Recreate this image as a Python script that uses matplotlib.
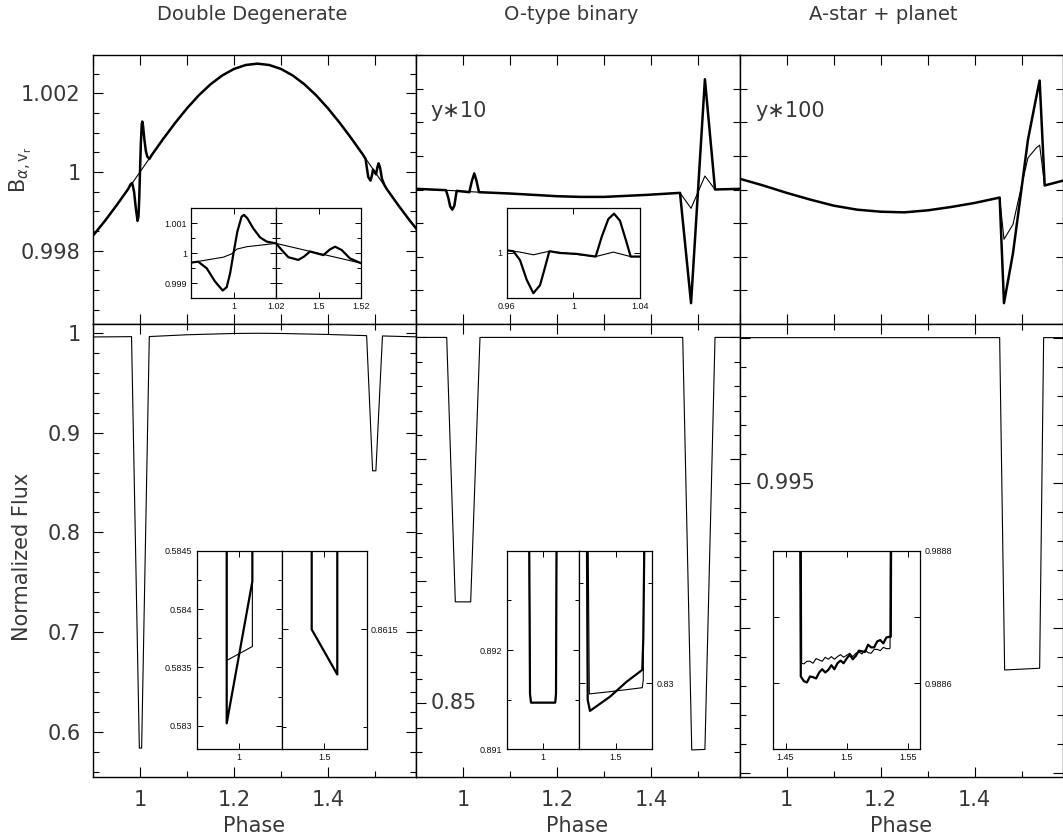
import matplotlib
matplotlib.use('Agg')
import matplotlib.pyplot as plt
from matplotlib.ticker import MultipleLocator

plt.rcParams['font.family'] = 'DejaVu Sans'
plt.rcParams['mathtext.fontset'] = 'dejavusans'

W, H = 1063, 840
TXT = '#383838'
INFONT = 'Liberation Sans'

titles = ['Double Degenerate', 'O-type binary', 'A-star + planet']

# ---- top row: B(alpha, v_r) ----
# Double degenerate
tl_phase = [0.900, 0.925, 0.950, 0.975, 1.000, 1.025, 1.050, 1.075, 1.100, 1.125, 1.150,
            1.175, 1.200, 1.225, 1.250, 1.275, 1.300, 1.325, 1.350, 1.375, 1.400, 1.425,
            1.450, 1.475, 1.500, 1.525, 1.550, 1.575, 1.600]
tl_thin = [0.998384, 0.998752, 0.999150, 0.999570, 1.000000, 1.000430, 1.000850, 1.001248,
           1.001616, 1.001945, 1.002225, 1.002450, 1.002616, 1.002716, 1.002750, 1.002716,
           1.002616, 1.002450, 1.002225, 1.001945, 1.001616, 1.001248, 1.000850, 1.000430,
           1.000000, 0.999570, 0.999150, 0.998752, 0.998384]
tl_thick_phase = [0.900, 0.925, 0.950, 0.975, 0.980, 0.9834, 0.9874, 0.9913, 0.9949, 0.9968,
                  0.9984, 1.0000, 1.0018, 1.0038, 1.0049, 1.0065, 1.0093, 1.0125, 1.0156,
                  1.0200, 1.025, 1.050, 1.075, 1.100, 1.125, 1.150, 1.175, 1.200, 1.225,
                  1.250, 1.275, 1.300, 1.325, 1.350, 1.375, 1.400, 1.425, 1.450, 1.475,
                  1.4800, 1.4827, 1.4858, 1.4905, 1.4932, 1.4960, 1.4991, 1.5023, 1.5054,
                  1.5078, 1.5109, 1.5148, 1.5200, 1.525, 1.550, 1.575, 1.600]
tl_thick = [0.998384, 0.998752, 0.999150, 0.999570, 0.99969, 0.99972, 0.99950, 0.99906,
            0.99876, 0.99887, 0.99933, 1.00000, 1.00072, 1.00122, 1.00128, 1.00117, 1.00083,
            1.00053, 1.00039, 1.00033, 1.000430, 1.000850, 1.001248, 1.001616, 1.001945,
            1.002225, 1.002450, 1.002616, 1.002716, 1.002750, 1.002716, 1.002616, 1.002450,
            1.002225, 1.001945, 1.001616, 1.001248, 1.000850, 1.000430,
            1.00033, 1.00011, 0.99987, 0.99978, 0.99989, 1.00006, 1.00000, 0.99994, 1.00013,
            1.00022, 1.00011, 0.99983, 0.99967, 0.999570, 0.999150, 0.998752, 0.998384]

# O-type binary (y*10)
tm_thick_phase = [0.900, 0.9632, 0.968, 0.972, 0.9766, 0.981, 0.9845, 0.986, 1.0128, 1.018,
                  1.0234, 1.028, 1.0334, 1.100, 1.200, 1.250, 1.300, 1.390, 1.461, 1.4845,
                  1.514, 1.5355, 1.589]
tm_thick = [1.00001, 0.99999, 0.99988, 0.99975, 0.99970, 0.99976, 0.99992, 0.99998, 0.99996,
            1.00012, 1.00024, 1.00013, 0.99996, 0.99994, 0.99990, 0.99989, 0.99989, 0.99992,
            0.99995, 0.99831, 1.00164, 1.00000, 1.00001]
tm_thin_phase = [0.900, 0.986, 1.0334, 1.100, 1.200, 1.250, 1.300, 1.390, 1.461, 1.4845,
                 1.514, 1.5355, 1.589]
tm_thin = [1.00001, 0.99998, 0.99996, 0.99994, 0.99990, 0.99989, 0.99989, 0.99992, 0.99995,
           0.99972, 1.00020, 1.00000, 1.00001]

# A-star + planet (y*100)
tr_phase = [0.900, 0.950, 1.000, 1.050, 1.100, 1.150, 1.200, 1.250, 1.300, 1.350, 1.400,
            1.4532, 1.4624, 1.4815, 1.4993, 1.5134, 1.5313, 1.5383, 1.549, 1.5872]
tr_thick = [1.00016, 1.00006, 0.99995, 0.99985, 0.99976, 0.99970, 0.99967, 0.99966, 0.99969,
            0.99974, 0.99980, 0.99988, 0.99831, 0.99905, 0.99999, 1.00074, 1.00138, 1.00162,
            1.00006, 1.00013]
tr_thin = [1.00016, 1.00006, 0.99995, 0.99985, 0.99976, 0.99970, 0.99967, 0.99966, 0.99969,
           0.99974, 0.99980, 0.99988, 0.99926, 0.99948, 1.00004, 1.00047, 1.00062, 1.00066,
           1.00006, 1.00013]

# ---- bottom row: normalized flux ----
bl_phase = [0.900, 0.982, 0.9986, 1.0035, 1.0198, 1.100, 1.200, 1.250, 1.300, 1.400, 1.4823,
            1.495, 1.502, 1.516, 1.588]
bl_flux = [0.9960, 0.9963, 0.5835, 0.5835, 0.9964, 0.9982, 0.9995, 0.9997, 0.9995, 0.9985,
           0.9973, 0.8617, 0.8617, 0.9970, 0.9961]
bm_phase = [0.900, 0.9647, 0.983, 1.0157, 1.0355, 1.4668, 1.486, 1.514, 1.5355, 1.588]
bm_flux = [1.0, 1.0, 0.8916, 0.8916, 1.0, 1.0, 0.8309, 0.8311, 1.0, 1.0]
br_phase = [0.900, 1.4532, 1.4638, 1.5383, 1.5468, 1.588]
br_flux = [1.0, 1.0, 0.98854, 0.98860, 1.0, 1.0]

# ---- insets ----
tli_l_phase = [0.980, 0.9834, 0.9874, 0.9913, 0.9949, 0.9968, 0.9984, 1.0000, 1.0018, 1.0038,
               1.0049, 1.0065, 1.0093, 1.0125, 1.0156, 1.0200]
tli_l_thick = [0.99969, 0.99972, 0.99950, 0.99906, 0.99876, 0.99887, 0.99933, 1.00000, 1.00072,
               1.00122, 1.00128, 1.00117, 1.00083, 1.00053, 1.00039, 1.00033]
tli_l_thin_phase = [0.980, 0.9952, 0.9991, 1.0016, 1.0063, 1.0200]
tli_l_thin = [0.99969, 0.99987, 0.99998, 1.00014, 1.00022, 1.00033]
tli_r_phase = [1.4800, 1.4827, 1.4858, 1.4905, 1.4932, 1.4960, 1.4991, 1.5023, 1.5054, 1.5078,
               1.5109, 1.5148, 1.5200]
tli_r_thick = [1.00033, 1.00011, 0.99987, 0.99978, 0.99989, 1.00006, 1.00000, 0.99994, 1.00013,
               1.00022, 1.00011, 0.99983, 0.99967]
tli_r_thin_phase = [1.48, 1.52]
tli_r_thin = [1.00033, 0.99967]

tmi_phase = [0.960, 0.964, 0.968, 0.972, 0.976, 0.980, 0.983, 0.9856, 0.992, 1.002, 1.0134,
             1.017, 1.021, 1.0244, 1.028, 1.0316, 1.0344, 1.040]
tmi_thick = [1.00003, 1.00002, 0.99992, 0.99970, 0.99955, 0.99964, 0.99984, 1.00002, 1.00000,
             0.99999, 0.99996, 1.00018, 1.00038, 1.00044, 1.00036, 1.00014, 0.99996, 0.99996]
tmi_thin_phase = [0.960, 0.968, 0.976, 0.9856, 1.0134, 1.024, 1.0344, 1.040]
tmi_thin = [1.00003, 1.00001, 0.99998, 1.00002, 0.99996, 1.00001, 0.99996, 0.99996]

bli_l_phase = [0.99706, 0.99706, 1.0031, 1.0031]
bli_l_thick = [0.5850, 0.58302, 0.58424, 0.5850]
bli_l_thin = [0.5850, 0.58356, 0.58368, 0.5850]
bli_r_phase = [1.49706, 1.49706, 1.50308, 1.50308]
bli_r_thick = [0.8625, 0.86150, 0.86127, 0.8625]

bmi_l_phase = [0.98457, 0.98568, 0.98678, 1.01350, 1.01432, 1.01510]
bmi_l_flux = [0.8935, 0.89156, 0.89147, 0.89147, 0.89156, 0.8935]
bmi_r_thick_phase = [1.4681, 1.4692, 1.4717, 1.4936, 1.5119, 1.5290, 1.5301, 1.5320]
bmi_r_thick = [0.8310, 0.829917, 0.829862, 0.829933, 0.830008, 0.830067, 0.830217, 0.8310]
bmi_r_thin_phase = [1.4692, 1.4710, 1.4936, 1.5290, 1.5301, 1.5310]
bmi_r_thin = [0.8310, 0.829947, 0.829958, 0.829978, 0.830017, 0.8310]

bri_thick_phase = [1.4618, 1.4625, 1.4650, 1.4675, 1.4700, 1.4725, 1.4750, 1.4775, 1.4800,
                   1.4825, 1.4850, 1.4875, 1.4900, 1.4925, 1.4950, 1.4975, 1.5000, 1.5025,
                   1.5050, 1.5075, 1.5100, 1.5125, 1.5150, 1.5175, 1.5200, 1.5225, 1.5250,
                   1.5275, 1.5300, 1.5325, 1.5350, 1.5361, 1.5365]
bri_thick = [0.98890, 0.988610, 0.988603, 0.988601, 0.988610, 0.988609, 0.988607, 0.988616,
             0.988621, 0.988616, 0.988620, 0.988627, 0.988621, 0.988630, 0.988634, 0.988630,
             0.988637, 0.988643, 0.988636, 0.988641, 0.988649, 0.988648, 0.988647, 0.988658,
             0.988654, 0.988654, 0.988663, 0.988665, 0.988660, 0.988669, 0.988670, 0.988670,
             0.98890]
bri_thin_phase = [1.4628, 1.4632, 1.4650, 1.4675, 1.4700, 1.4725, 1.4750, 1.4775, 1.4800,
                  1.4825, 1.4850, 1.4875, 1.4900, 1.4925, 1.4950, 1.4975, 1.5000, 1.5025,
                  1.5050, 1.5075, 1.5100, 1.5125, 1.5150, 1.5175, 1.5200, 1.5225, 1.5250,
                  1.5275, 1.5300, 1.5325, 1.5350, 1.5355, 1.5358]
bri_thin = [0.98890, 0.988630, 0.988629, 0.988633, 0.988633, 0.988630, 0.988637, 0.988635,
            0.988633, 0.988639, 0.988636, 0.988640, 0.988636, 0.988640, 0.988643, 0.988639,
            0.988642, 0.988645, 0.988640, 0.988645, 0.988647, 0.988644, 0.988650, 0.988646,
            0.988645, 0.988651, 0.988651, 0.988649, 0.988654, 0.988652, 0.988652, 0.988653,
            0.98890]


fig = plt.figure(figsize=(W / 100, H / 100), dpi=100)


def box(x0, y0, x1, y1):
    # pixel box (top-left origin) -> figure fraction
    return [x0 / W, 1 - y1 / H, (x1 - x0) / W, (y1 - y0) / H]


def main_axes(x0, x1, y0, y1, ylim):
    ax = fig.add_axes(box(x0, y0, x1, y1))
    ax.set_xlim(0.9, 1.588)
    ax.set_ylim(*ylim)
    ax.tick_params(which='both', direction='in', top=True, right=True, labelsize=15,
                   colors='k', labelcolor=TXT, width=0.8)
    ax.tick_params(which='major', length=7.5)
    ax.tick_params(which='minor', length=4.5)
    ax.tick_params(axis='x', pad=9)
    ax.tick_params(axis='y', pad=9)
    for s in ax.spines.values():
        s.set_linewidth(1.0)
    return ax


def inset_axes(x0, x1, y0, y1, xlim, ylim):
    ax = fig.add_axes(box(x0, y0, x1, y1))
    ax.set_xlim(*xlim)
    ax.set_ylim(*ylim)
    ax.tick_params(which='both', direction='in', top=True, right=True, labelsize=6.5,
                   pad=3, width=0.7, labelcolor='#111')
    ax.tick_params(which='major', length=4)
    ax.tick_params(which='minor', length=3)
    for s in ax.spines.values():
        s.set_linewidth(0.9)
    return ax


cols = [93, 416.3, 739.7, 1063]

# top row
tl = main_axes(cols[0], cols[1], 55, 324, (0.99614, 1.00297))
tm = main_axes(cols[1], cols[2], 55, 324, (0.998, 1.002))
tr = main_axes(cols[2], cols[3], 55, 324, (0.998, 1.002))
for ax in (tl, tm, tr):
    ax.xaxis.set_major_locator(MultipleLocator(0.1))
    ax.tick_params(labelbottom=False)
tl.set_yticks([0.998, 1.0, 1.002], ['0.998', '1', '1.002'])
tl.yaxis.set_minor_locator(MultipleLocator(0.0005))
for ax in (tm, tr):
    ax.yaxis.set_major_locator(MultipleLocator(0.0005))
    ax.tick_params(axis='y', which='major', length=5, labelleft=False)

tl.plot(tl_phase, tl_thin, color='k', lw=0.8)
tl.plot(tl_thick_phase, tl_thick, color='k', lw=1.8)
tm.plot(tm_thin_phase, tm_thin, color='k', lw=0.8)
tm.plot(tm_thick_phase, tm_thick, color='k', lw=1.8)
tr.plot(tr_phase, tr_thin, color='k', lw=0.8)
tr.plot(tr_phase, tr_thick, color='k', lw=1.8)

tm.text(0.045, 0.79, 'y\u221710', transform=tm.transAxes, fontsize=15, color=TXT,
        va='center', ha='left')
tr.text(0.05, 0.79, 'y\u2217100', transform=tr.transAxes, fontsize=15, color=TXT,
        va='center', ha='left')

# bottom row
bl = main_axes(cols[0], cols[1], 324, 777, (0.5545, 1.009))
bm = main_axes(cols[1], cols[2], 324, 777, (0.8198, 1.0055))
br = main_axes(cols[2], cols[3], 324, 777, (0.98485, 1.00047))
for ax in (bl, bm, br):
    ax.set_xticks([1.0, 1.2, 1.4], ['1', '1.2', '1.4'])
    ax.xaxis.set_minor_locator(MultipleLocator(0.1))
bl.set_yticks([0.6, 0.7, 0.8, 0.9, 1.0], ['0.6', '0.7', '0.8', '0.9', '1'])
bl.yaxis.set_minor_locator(MultipleLocator(0.02))
bm.yaxis.set_major_locator(MultipleLocator(0.05))
bm.yaxis.set_minor_locator(MultipleLocator(0.01))
br.yaxis.set_major_locator(MultipleLocator(0.005))
br.yaxis.set_minor_locator(MultipleLocator(0.001))
for ax in (bm, br):
    ax.tick_params(axis='y', labelleft=False)

bl.plot(bl_phase, bl_flux, color='k', lw=0.8)
bm.plot(bm_phase, bm_flux, color='k', lw=0.8)
br.plot(br_phase, br_flux, color='k', lw=0.8)

# stray tick labels drawn inside the panels
bm.text(0.045, 0.85, '0.85', transform=bm.get_yaxis_transform(), fontsize=15, color=TXT,
        va='center', ha='left')
br.text(0.05, 0.995, '0.995', transform=br.get_yaxis_transform(), fontsize=15, color=TXT,
        va='center', ha='left')

# inset: double degenerate, top
a = inset_axes(191, 276, 208.3, 298.3, (0.98, 1.02), (0.9985, 1.0015))
a.set_xticks([1.0, 1.02], ['1', '1.02'], fontfamily=INFONT)
a.set_yticks([0.999, 1.0, 1.001], ['0.999', '1', '1.001'], fontfamily=INFONT)
a.yaxis.set_minor_locator(MultipleLocator(0.0005))
a.plot(tli_l_thin_phase, tli_l_thin, color='k', lw=0.8)
a.plot(tli_l_phase, tli_l_thick, color='k', lw=1.6)
a = inset_axes(276, 361, 208.3, 298.3, (1.48, 1.52), (0.9985, 1.0015))
a.set_xticks([1.5, 1.52], ['1.5', '1.52'], fontfamily=INFONT)
a.set_yticks([0.999, 1.0, 1.001])
a.yaxis.set_minor_locator(MultipleLocator(0.0005))
a.tick_params(labelleft=False)
a.plot(tli_r_thin_phase, tli_r_thin, color='k', lw=0.8)
a.plot(tli_r_phase, tli_r_thick, color='k', lw=1.6)

# inset: O-type, top
a = inset_axes(506.7, 640, 208.3, 297.7, (0.96, 1.04), (0.9995, 1.0005))
a.set_xticks([0.96, 1.0, 1.04], ['0.96', '1', '1.04'], fontfamily=INFONT)
a.set_yticks([1.0], ['1'], fontfamily=INFONT)
a.plot(tmi_thin_phase, tmi_thin, color='k', lw=0.8)
a.plot(tmi_phase, tmi_thick, color='k', lw=1.6)

# inset: double degenerate, bottom
a = inset_axes(196.7, 281.7, 551, 749, (0.99, 1.01), (0.5828, 0.5845))
a.set_xticks([1.0], ['1'], fontfamily=INFONT)
a.set_yticks([0.583, 0.5835, 0.584, 0.5845], ['0.583', '0.5835', '0.584', '0.5845'],
             fontfamily=INFONT)
a.yaxis.set_minor_locator(MultipleLocator(0.00025))
a.plot(bli_l_phase, bli_l_thin, color='k', lw=0.8)
a.plot(bli_l_phase, bli_l_thick, color='k', lw=1.6)
a = inset_axes(281.7, 366.7, 551, 749, (1.49, 1.51), (0.86089, 0.8619))
a.set_xticks([1.5], ['1.5'], fontfamily=INFONT)
a.set_yticks([0.8615], ['0.8615'], fontfamily=INFONT)
a.set_yticks([0.861], minor=True)
a.tick_params(labelleft=False, labelright=True)
a.plot(bli_r_phase, bli_r_thick, color='k', lw=1.6)

# inset: O-type, bottom
a = inset_axes(506.7, 579.3, 550.7, 749.3, (0.96, 1.04), (0.891, 0.893))
a.set_xticks([1.0], ['1'], fontfamily=INFONT)
a.set_yticks([0.891, 0.892], ['0.891', '0.892'], fontfamily=INFONT)
a.yaxis.set_minor_locator(MultipleLocator(0.0005))
a.plot(bmi_l_phase, bmi_l_flux, color='k', lw=0.8)
a.plot(bmi_l_phase, bmi_l_flux, color='k', lw=1.6)
a = inset_axes(579.3, 652.3, 550.7, 749.3, (1.46, 1.54), (0.82967, 0.830663))
a.set_xticks([1.5], ['1.5'], fontfamily=INFONT)
a.set_yticks([0.83], ['0.83'], fontfamily=INFONT)
a.set_yticks([0.8305], minor=True)
a.tick_params(labelleft=False, labelright=True)
a.plot(bmi_r_thin_phase, bmi_r_thin, color='k', lw=0.8)
a.plot(bmi_r_thick_phase, bmi_r_thick, color='k', lw=1.6)

# inset: A-star, bottom
a = inset_axes(773.3, 920, 550.7, 749.3, (1.44, 1.56), (0.9885, 0.9888))
a.set_xticks([1.45, 1.5, 1.55], ['1.45', '1.5', '1.55'], fontfamily=INFONT)
a.set_yticks([0.9886, 0.9887, 0.9888], ['0.9886', '', '0.9888'], fontfamily=INFONT)
a.tick_params(labelleft=False, labelright=True)
a.plot(bri_thin_phase, bri_thin, color='k', lw=0.8)
a.plot(bri_thick_phase, bri_thick, color='k', lw=1.6)

# titles and axis labels
for x, t in zip([252, 571, 883], titles):
    fig.text(x / W, 1 - 15 / H, t, fontsize=14, color=TXT, ha='center', va='center')
for x in [254, 577, 901]:
    fig.text(x / W, 1 - 826 / H, 'Phase', fontsize=15, color=TXT, ha='center', va='center')
fig.text(21 / W, 1 - 170 / H, r'$\mathrm{B}_{\alpha,\mathrm{v}_\mathrm{r}}$', fontsize=15,
         color=TXT, rotation=90, ha='center', va='center')
fig.text(22 / W, 1 - 557 / H, 'Normalized Flux', fontsize=15, color=TXT, rotation=90,
         ha='center', va='center')

fig.savefig('out.png', dpi=100)
